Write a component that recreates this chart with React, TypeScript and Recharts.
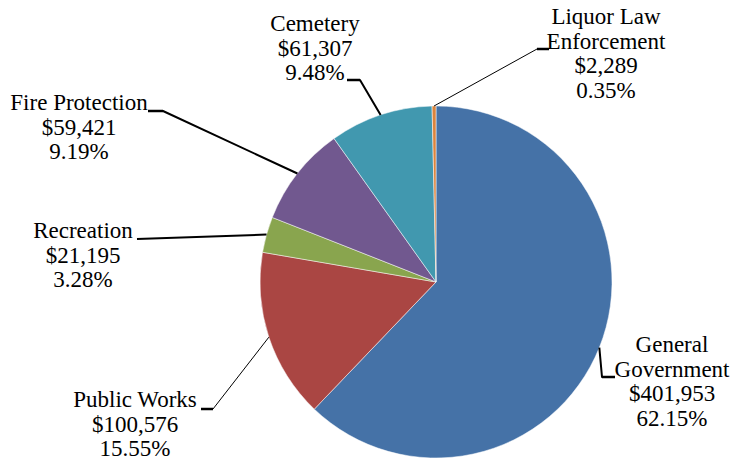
import { PieChart, Pie, Cell } from "recharts";

// Expenditure categories, clockwise from 12 o'clock
const categories = [
  "General\nGovernment",
  "Public Works",
  "Recreation",
  "Fire Protection",
  "Cemetery",
  "Liquor Law\nEnforcement",
];
const amounts = [401953, 100576, 21195, 59421, 61307, 2289];
const colors = ["#4572A7", "#AA4643", "#89A54E", "#71588F", "#4198AF", "#DB843D"];

// Label placement: text centre x, first baseline y, elbow of the leader line, leader width
const labelLayout = [
  { x: 672, y: 352, bend: [[602, 377], [615, 377]], w: 2 },
  { x: 135, y: 407, bend: [[213, 409], [201, 409]], w: 1 },
  { x: 83, y: 238, bend: [[137, 239]], w: 2 },
  { x: 79, y: 110, bend: [[163, 111], [148, 111]], w: 2 },
  { x: 315, y: 31, bend: [[360, 80], [347, 80]], w: 2 },
  { x: 606, y: 24, bend: [[537, 49], [549, 49]], w: 1 },
];

const chartData = categories.map((name, i) => ({ name, value: amounts[i] }));

const FONT = "Liberation Serif";
const RAD = Math.PI / 180;

function renderSliceLabel(props: any) {
  const { cx, cy, midAngle, outerRadius, index, percent, value, name } = props;
  const lay = labelLayout[index];
  const ex = cx + outerRadius * Math.cos(-midAngle * RAD);
  const ey = cy + outerRadius * Math.sin(-midAngle * RAD);
  const pts = [[ex, ey], ...lay.bend];
  const d = pts.map((p, i) => `${i === 0 ? "M" : "L"}${p[0]},${p[1]}`).join(" ");
  const lines = [
    ...String(name).split("\n"),
    "$" + Number(value).toLocaleString("en-US"),
    (percent * 100).toFixed(2) + "%",
  ];
  const last = lay.bend[lay.bend.length - 1];
  const prev = lay.bend.length > 1 ? lay.bend[lay.bend.length - 2] : null;
  return (
    <g key={`lbl-${index}`}>
      <path d={d} stroke="#000" strokeWidth={lay.w} fill="none" strokeLinejoin="round" />
      {prev && (
        <line x1={prev[0]} y1={prev[1]} x2={last[0]} y2={last[1]} stroke="#000" strokeWidth={2.5} />
      )}
      {lines.map((t, i) => (
        <text
          key={i}
          x={lay.x}
          y={lay.y + i * 24.6}
          textAnchor="middle"
          fontFamily={FONT}
          fontSize={23}
          fill="#000"
          stroke="none"
        >
          {t}
        </text>
      ))}
    </g>
  );
}

export default function App() {
  return (
    <div style={{ position: "absolute", left: 0, top: 0, width: 734, height: 460, background: "#fff" }}>
      <PieChart width={734} height={460} margin={{ top: 0, right: 0, bottom: 0, left: 0 }}>
        <Pie
          data={chartData}
          dataKey="value"
          nameKey="name"
          cx={436}
          cy={282}
          outerRadius={176}
          startAngle={90}
          endAngle={-270}
          stroke="#ffffff"
          strokeWidth={0.5}
          label={renderSliceLabel}
          labelLine={false}
          isAnimationActive={false}
        >
          {chartData.map((_, i) => (
            <Cell key={i} fill={colors[i]} />
          ))}
        </Pie>
      </PieChart>
    </div>
  );
}
